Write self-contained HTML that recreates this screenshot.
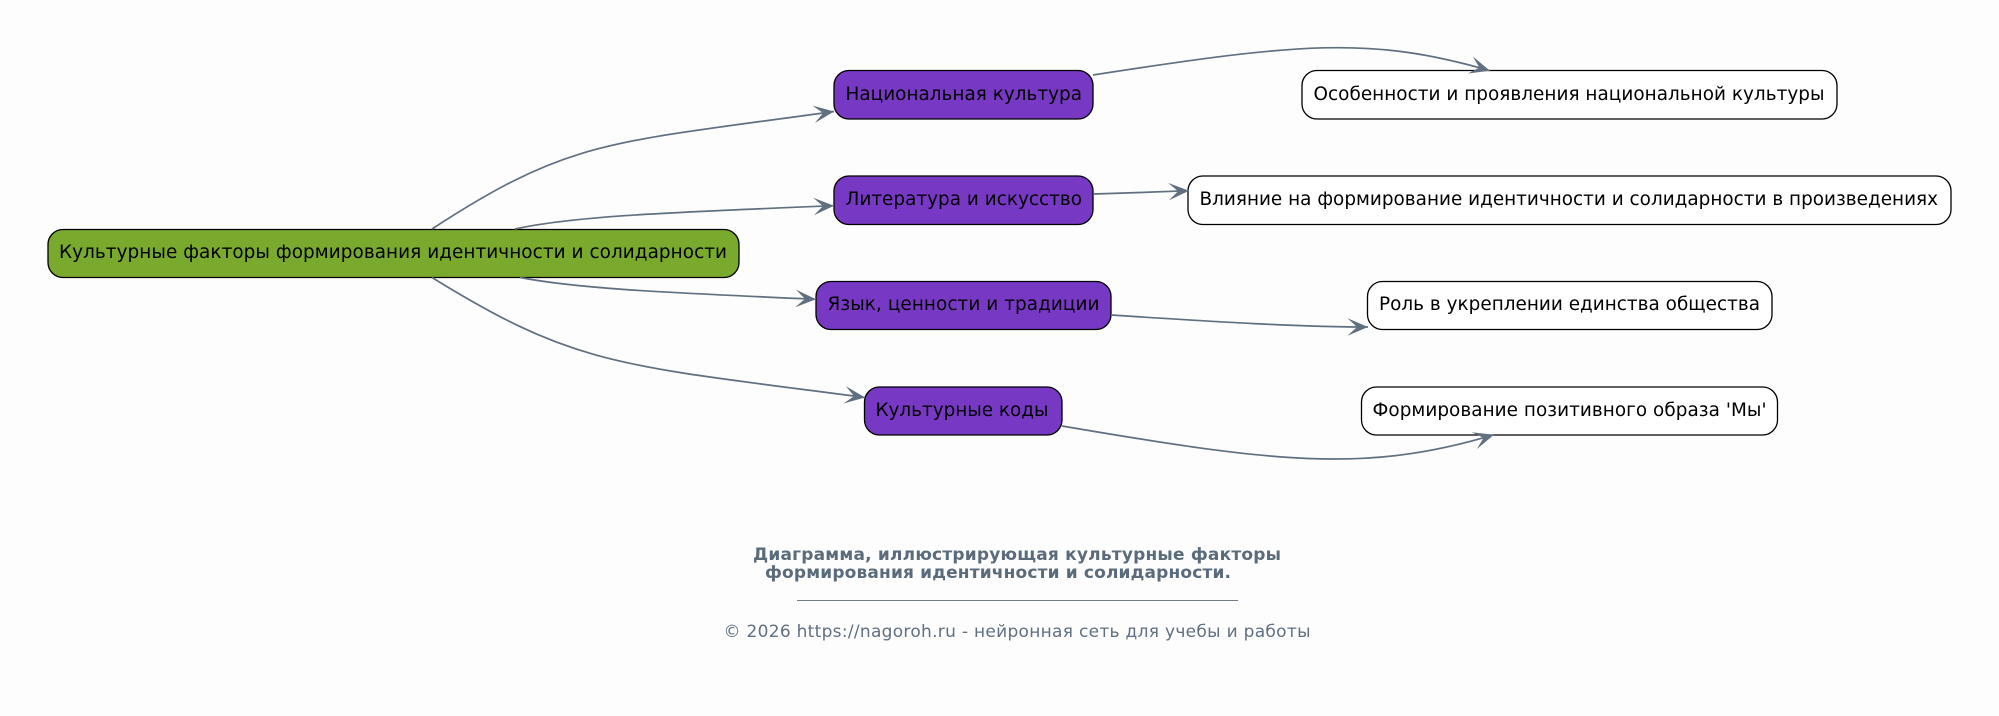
<!DOCTYPE html>
<html><head><meta charset="utf-8"><style>
html,body{margin:0;padding:0;background:#fdfdfd;width:1999px;height:716px;overflow:hidden}
svg{display:block}
text{font-family:"DejaVu Sans","Liberation Sans",sans-serif}
.n{font-size:18.4px;fill:#000}
.e{fill:none;stroke:#607080;stroke-width:1.7;marker-end:url(#v)}
</style></head><body>
<svg width="1999" height="716" viewBox="0 0 1999 716" xmlns="http://www.w3.org/2000/svg">
<defs><marker id="v" markerUnits="userSpaceOnUse" markerWidth="26" markerHeight="22" refX="22" refY="11" orient="auto" viewBox="0 0 26 22"><path d="M22 11L1.500 2.200L11 11L1.500 19.800Z" fill="#607080"/></marker></defs>
<g stroke="#000" stroke-width="1.3">
<rect x="48" y="229.500" width="691" height="48" rx="15" fill="#79a92d"/>
<rect x="834" y="70.500" width="259" height="48.500" rx="15" fill="#7738c4"/>
<rect x="834" y="176" width="259" height="48.500" rx="15" fill="#7738c4"/>
<rect x="816" y="281.500" width="295" height="48" rx="15" fill="#7738c4"/>
<rect x="864.500" y="387" width="197.500" height="48" rx="15" fill="#7738c4"/>
<rect x="1302" y="70.500" width="535" height="48.500" rx="15" fill="#fff"/>
<rect x="1188" y="176" width="763" height="48.500" rx="15" fill="#fff"/>
<rect x="1367.500" y="281.500" width="404.500" height="48" rx="15" fill="#fff"/>
<rect x="1361.500" y="387" width="416" height="48" rx="15" fill="#fff"/>
</g>
<path class="e" d="M432 229C570 139 608 143 834 111.500"/>
<path class="e" d="M515 229C570 217 650 213 834 205.700"/>
<path class="e" d="M520 277.500C575 288 650 292 816 299.300"/>
<path class="e" d="M432 277.500C576 366.500 618 365 865 397.500"/>
<path class="e" d="M1093 75C1300 43 1370 36 1490 70.700"/>
<path class="e" d="M1094 194C1125 193 1160 192 1189 190.700"/>
<path class="e" d="M1111 315C1190 320 1290 327 1368 327"/>
<path class="e" d="M1062 426C1272 461.700 1364 474 1494 434.700"/>
<text class="n" x="59" y="258" textLength="668">Культурные факторы формирования идентичности и солидарности</text>
<text class="n" x="845.500" y="100" textLength="236.500">Национальная культура</text>
<text class="n" x="845.500" y="205" textLength="236.500">Литература и искусство</text>
<text class="n" x="827.500" y="310" textLength="272">Язык, ценности и традиции</text>
<text class="n" x="875.500" y="416" textLength="173">Культурные коды</text>
<text class="n" x="1313.500" y="100" textLength="511">Особенности и проявления национальной культуры</text>
<text class="n" x="1199.500" y="205" textLength="738.500">Влияние на формирование идентичности и солидарности в произведениях</text>
<text class="n" x="1379" y="310" textLength="381">Роль в укреплении единства общества</text>
<text class="n" x="1372.500" y="416" textLength="394">Формирование позитивного образа 'Мы'</text>
<text x="753" y="560" font-size="17" font-weight="700" fill="#5a6b7c" textLength="528">Диаграмма, иллюстрирующая культурные факторы</text>
<text x="765" y="578" font-size="17" font-weight="700" fill="#5a6b7c" textLength="466">формирования идентичности и солидарности.</text>
<rect x="797" y="600" width="441" height="1" fill="#6f7d8a"/>
<text x="723.500" y="637" font-size="17" fill="#5f7080" textLength="587">© 2026 https://nagoroh.ru - нейронная сеть для учебы и работы</text>
</svg>
</body></html>
